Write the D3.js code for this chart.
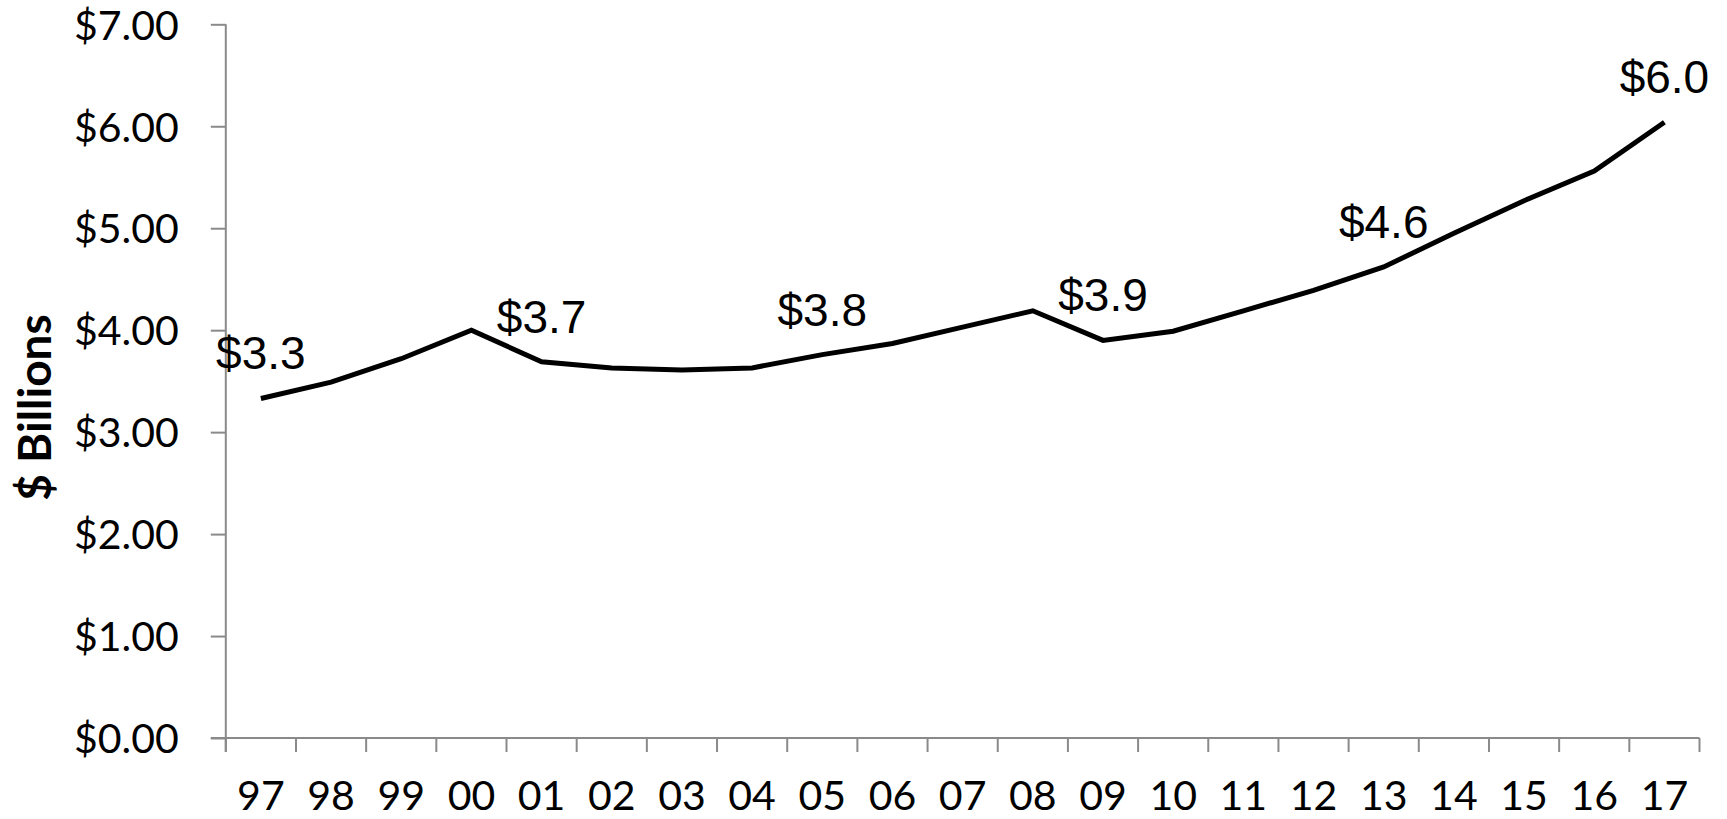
<!DOCTYPE html>
<html>
<head>
<meta charset="utf-8">
<script src="https://cdn.jsdelivr.net/npm/d3@7"></script>
<style>
  html, body { margin: 0; padding: 0; background: #ffffff; }
  svg { display: block; }
</style>
</head>
<body>
<svg id="chart" width="1727" height="819"></svg>
<script>
// ---- data ----
const years = ["97","98","99","00","01","02","03","04","05","06","07","08","09","10","11","12","13","14","15","16","17"];
const values = [3.33, 3.49, 3.72, 4.00, 3.69, 3.63, 3.61, 3.63, 3.76, 3.87, 4.03, 4.19, 3.90, 3.99, 4.19, 4.39, 4.62, 4.95, 5.27, 5.56, 6.04];
const labeledYears = ["97","01","05","09","13","17"];
const yTicks = [0, 1, 2, 3, 4, 5, 6, 7];
const yTitle = "$ Billions";

// ---- layout ----
const svg = d3.select("#chart");
svg.append("rect").attr("width", 1727).attr("height", 819).attr("fill", "#fff");

const plotLeft = 225.8, plotRight = 1699.5, plotTop = 24.3, plotBottom = 738;
const x = d3.scaleBand().domain(years).range([plotLeft, plotRight]).padding(0);
const y = d3.scaleLinear().domain([0, 7]).range([plotBottom, plotTop]);
const axisColor = "#8a8a8a";
const tickFont = "Lato, 'Open Sans', sans-serif";

// y axis
const yAxis = svg.append("g")
  .attr("transform", `translate(${plotLeft},0)`)
  .call(d3.axisLeft(y).tickValues(yTicks).tickSize(15).tickPadding(32)
        .tickFormat(d => "$" + d.toFixed(2)));
yAxis.select(".domain").remove();
yAxis.selectAll(".tick line").attr("stroke", axisColor).attr("stroke-width", 2);
yAxis.selectAll(".tick text")
  .attr("font-family", tickFont).attr("font-size", 41).attr("fill", "#000")
  .attr("dy", "0.36em");

// y axis line (extends down to bottom of x ticks)
svg.append("line")
  .attr("x1", plotLeft).attr("x2", plotLeft)
  .attr("y1", y(7)).attr("y2", plotBottom + 14)
  .attr("stroke", axisColor).attr("stroke-width", 2);

// x axis line
svg.append("line")
  .attr("x1", plotLeft - 15).attr("x2", plotRight)
  .attr("y1", plotBottom).attr("y2", plotBottom)
  .attr("stroke", axisColor).attr("stroke-width", 2);

// x ticks at band boundaries
const boundaries = years.map(d => x(d)).concat([x(years[years.length - 1]) + x.bandwidth()]);
svg.append("g").selectAll("line").data(boundaries).join("line")
  .attr("x1", d => d).attr("x2", d => d)
  .attr("y1", plotBottom).attr("y2", plotBottom + 14)
  .attr("stroke", axisColor).attr("stroke-width", 2);

// x labels
const xAxis = svg.append("g")
  .attr("transform", `translate(0,${plotBottom})`)
  .call(d3.axisBottom(x).tickSize(0).tickPadding(0));
xAxis.select(".domain").remove();
xAxis.selectAll(".tick text")
  .attr("font-family", tickFont).attr("font-size", 41).attr("fill", "#000")
  .attr("y", 71.5).attr("dy", 0);

// y title
svg.append("text")
  .attr("transform", `translate(51,407.5) rotate(-90)`)
  .attr("text-anchor", "middle")
  .attr("font-family", tickFont).attr("font-weight", "bold").attr("font-size", 46)
  .attr("fill", "#000")
  .text(yTitle);

// line
const cx = d => x(d) + x.bandwidth() / 2;
const pts = years.map((d, i) => [cx(d), y(values[i])]);
svg.append("path")
  .attr("d", d3.line()(pts))
  .attr("fill", "none").attr("stroke", "#000").attr("stroke-width", 5)
  .attr("stroke-linejoin", "miter");

// data labels
const fmt = d3.format(".1f");
svg.append("g").selectAll("text").data(labeledYears).join("text")
  .attr("x", d => cx(d))
  .attr("y", d => y(values[years.indexOf(d)]) - 29)
  .attr("text-anchor", "middle")
  .attr("font-family", "'Liberation Sans', Arial, sans-serif")
  .attr("font-size", 46).attr("fill", "#000")
  .text(d => "$" + fmt(values[years.indexOf(d)]));
</script>
</body>
</html>
